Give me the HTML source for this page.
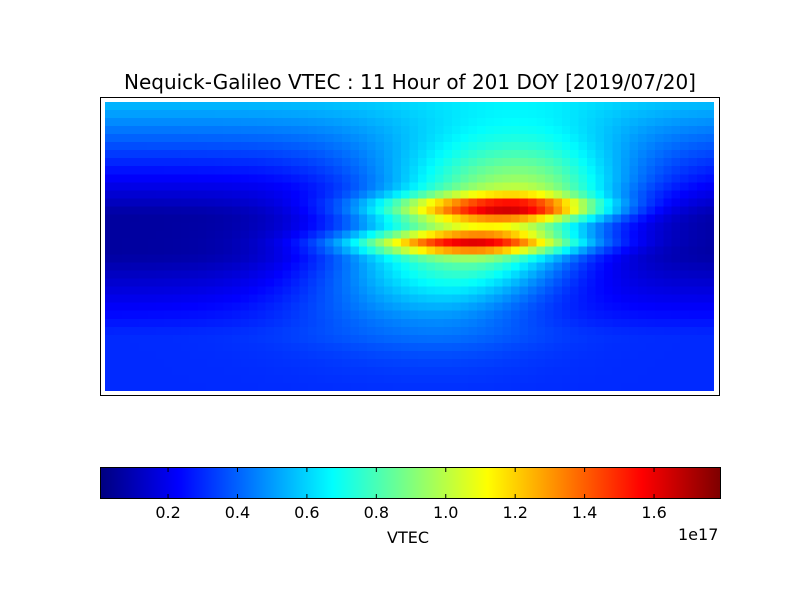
<!DOCTYPE html>
<html><head><meta charset="utf-8"><style>
body{margin:0;background:#fff;width:800px;height:600px;position:relative;overflow:hidden;font-family:"DejaVu Sans","Liberation Sans",sans-serif}
.t{position:absolute;white-space:nowrap;color:#000}
canvas{position:absolute;image-rendering:pixelated}
</style></head><body>
<div class="t" style="left:0;width:820px;text-align:center;top:70px;font-size:20px">Nequick-Galileo VTEC : 11 Hour of 201 DOY [2019/07/20]</div>
<div style="position:absolute;left:100px;top:97px;width:618px;height:297px;border:1px solid #000"></div>
<canvas id="m" width="72" height="36" style="left:105px;top:102px;width:609px;height:289px"></canvas>
<canvas id="cb" width="620" height="1" style="left:100px;top:468px;width:620px;height:30px"></canvas>
<div style="position:absolute;left:100px;top:467px;width:619px;height:30px;border:1px solid #000"></div>
<svg style="position:absolute;left:0;top:0" width="800" height="600" id="ticks"></svg>
<div class="t" style="left:387px;top:528px;font-size:16px">VTEC</div>
<div class="t" style="left:678px;top:525px;font-size:16px">1e17</div>
<script>
function jet(v){v=Math.max(0,Math.min(1,v));
function c(x){return Math.max(0,Math.min(1,x));}
var r=c(Math.min(4*v-1.5,-4*v+4.5)),g=c(Math.min(4*v-0.5,-4*v+3.5)),b=c(Math.min(4*v+0.5,-4*v+2.5));
return [r*255|0,g*255|0,b*255|0];}
function G(x,c,sw,se){var d=x-c;return Math.exp(-Math.pow(d/(d<0?sw:se),2));}
var vmin=0.004,vmax=1.79;
var m=document.getElementById('m').getContext('2d');var im=m.createImageData(72,36);
for(var j=0;j<36;j++){var lat=87.5-5*j;for(var i=0;i<72;i++){var lon=-177.5+5*i;
var base=0.06+(lat>20?0.5*(lat-20)/70:0)+(lat<-5?0.24*Math.min(1,(-lat-5)/50):0);
var cl=Math.max(-40,Math.min(40,lat));
var Db=G(lon,40+0.6*cl,80,65);
var B=0.97*G(lat,15,50,50);
var c1=0.65*Math.exp(-Math.pow((lat-24)/7.5,2))*G(lon,65,75,50);
var c2=0.65*Math.exp(-Math.pow((lat-2)/6.5,2))*G(lon,35,65,62);
var v=base+Db*B+c1+c2;var col=jet((v-vmin)/(vmax-vmin));var k=(j*72+i)*4;
im.data[k]=col[0];im.data[k+1]=col[1];im.data[k+2]=col[2];im.data[k+3]=255;}}
m.putImageData(im,0,0);
var cb=document.getElementById('cb').getContext('2d');var ci=cb.createImageData(620,1);
for(var x=0;x<620;x++){var col=jet(x/619);ci.data[x*4]=col[0];ci.data[x*4+1]=col[1];ci.data[x*4+2]=col[2];ci.data[x*4+3]=255;}
cb.putImageData(ci,0,0);
var s='';var px=(620)/(vmax-vmin);
for(var t=1;t<=8;t++){var val=t*0.2;var x=100+(val-vmin)*px;
s+='<line x1="'+x+'" y1="468" x2="'+x+'" y2="472" stroke="#000"/><line x1="'+x+'" y1="494" x2="'+x+'" y2="498" stroke="#000"/>';
s+='<text x="'+x+'" y="518" font-size="16" text-anchor="middle" font-family="DejaVu Sans, sans-serif">'+val.toFixed(1)+'</text>';}
document.getElementById('ticks').innerHTML=s;
</script>
</body></html>
